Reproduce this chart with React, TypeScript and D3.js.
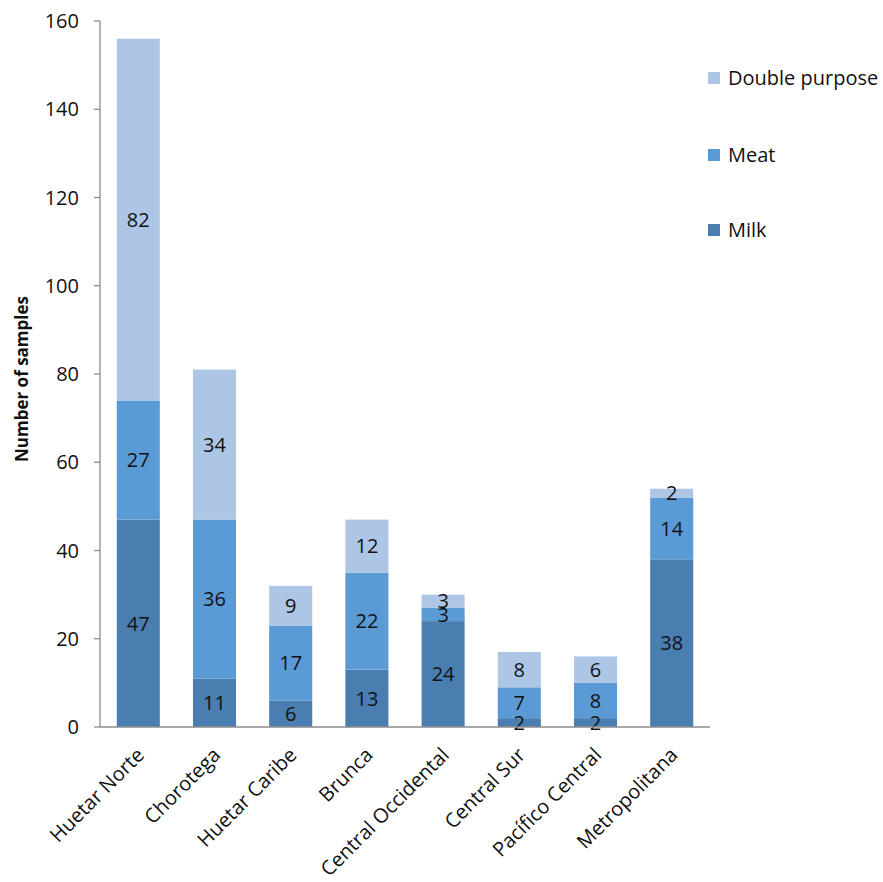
import React from "react";
import * as d3 from "d3";

const categories = [
  "Huetar Norte",
  "Chorotega",
  "Huetar Caribe",
  "Brunca",
  "Central Occidental",
  "Central Sur",
  "Pacífico Central",
  "Metropolitana",
];
const milk = [47, 11, 6, 13, 24, 2, 2, 38];
const meat = [27, 36, 17, 22, 3, 7, 8, 14];
const doublePurpose = [82, 34, 9, 12, 3, 8, 6, 2];
const seriesNames = ["Milk", "Meat", "Double purpose"];
const seriesColors = ["#4A7EB1", "#5B9BD5", "#ADC6E5"];
const yTicks = [0, 20, 40, 60, 80, 100, 120, 140, 160];

const W = 883;
const H = 882;
const FONT = "'Open Sans', 'Noto Sans', sans-serif";

export default function App() {
  const x = d3.scaleBand<string>().domain(categories).range([100, 710]).paddingInner(0.435).paddingOuter(0.22);
  const y = d3.scaleLinear().domain([0, 160]).range([727, 21]);

  const rows = categories.map((c, i) => ({ cat: c, Milk: milk[i], Meat: meat[i], "Double purpose": doublePurpose[i] }));
  const stacked = d3.stack<any>().keys(seriesNames)(rows);

  const legendY = [230, 155, 78];

  return (
    <svg width={W} height={H} style={{ position: "absolute", left: 0, top: 0, background: "#fff" }} fontFamily={FONT}>
      {stacked.map((layer, si) => (
        <g key={layer.key} fill={seriesColors[si]}>
          {layer.map((d, i) => (
            <rect key={i} x={x(categories[i])} y={y(d[1])} width={x.bandwidth()} height={y(d[0]) - y(d[1])} />
          ))}
        </g>
      ))}
      {stacked.map((layer, si) => (
        <g key={"l" + layer.key} fill="#111" fontSize={20} textAnchor="middle">
          {layer.map((d, i) => (
            <text key={i} x={(x(categories[i]) as number) + x.bandwidth() / 2} y={y((d[0] + d[1]) / 2)} dy="0.36em">
              {d[1] - d[0]}
            </text>
          ))}
        </g>
      ))}
      <line x1={100} x2={100} y1={21} y2={727} stroke="#8c8c8c" strokeWidth={1.3} />
      {yTicks.map((t) => (
        <g key={t}>
          <line x1={94} x2={100} y1={y(t)} y2={y(t)} stroke="#8c8c8c" strokeWidth={1.3} />
          <text x={79} y={y(t)} dy="0.36em" textAnchor="end" fontSize={20} fill="#111">
            {t}
          </text>
        </g>
      ))}
      <line x1={100} x2={710} y1={727} y2={727} stroke="#8c8c8c" strokeWidth={1.3} />
      {categories.map((c) => {
        const cx = (x(c) as number) + x.bandwidth() / 2 + 3;
        return (
          <text key={c} transform={`translate(${cx},${752}) rotate(-45)`} textAnchor="end" fontSize={20} fill="#111" dy="0.3em">
            {c}
          </text>
        );
      })}
      <text transform={`translate(22,379) rotate(-90)`} textAnchor="middle" fontSize={17} fontWeight="bold" fill="#111" dy="0.35em">
        Number of samples
      </text>
      {seriesNames.map((s, i) => (
        <g key={s}>
          <rect x={708} y={legendY[i] - 6} width={12} height={12} fill={seriesColors[i]} />
          <text x={728} y={legendY[i]} dy="0.36em" fontSize={20} fill="#111">
            {s}
          </text>
        </g>
      ))}
    </svg>
  );
}
